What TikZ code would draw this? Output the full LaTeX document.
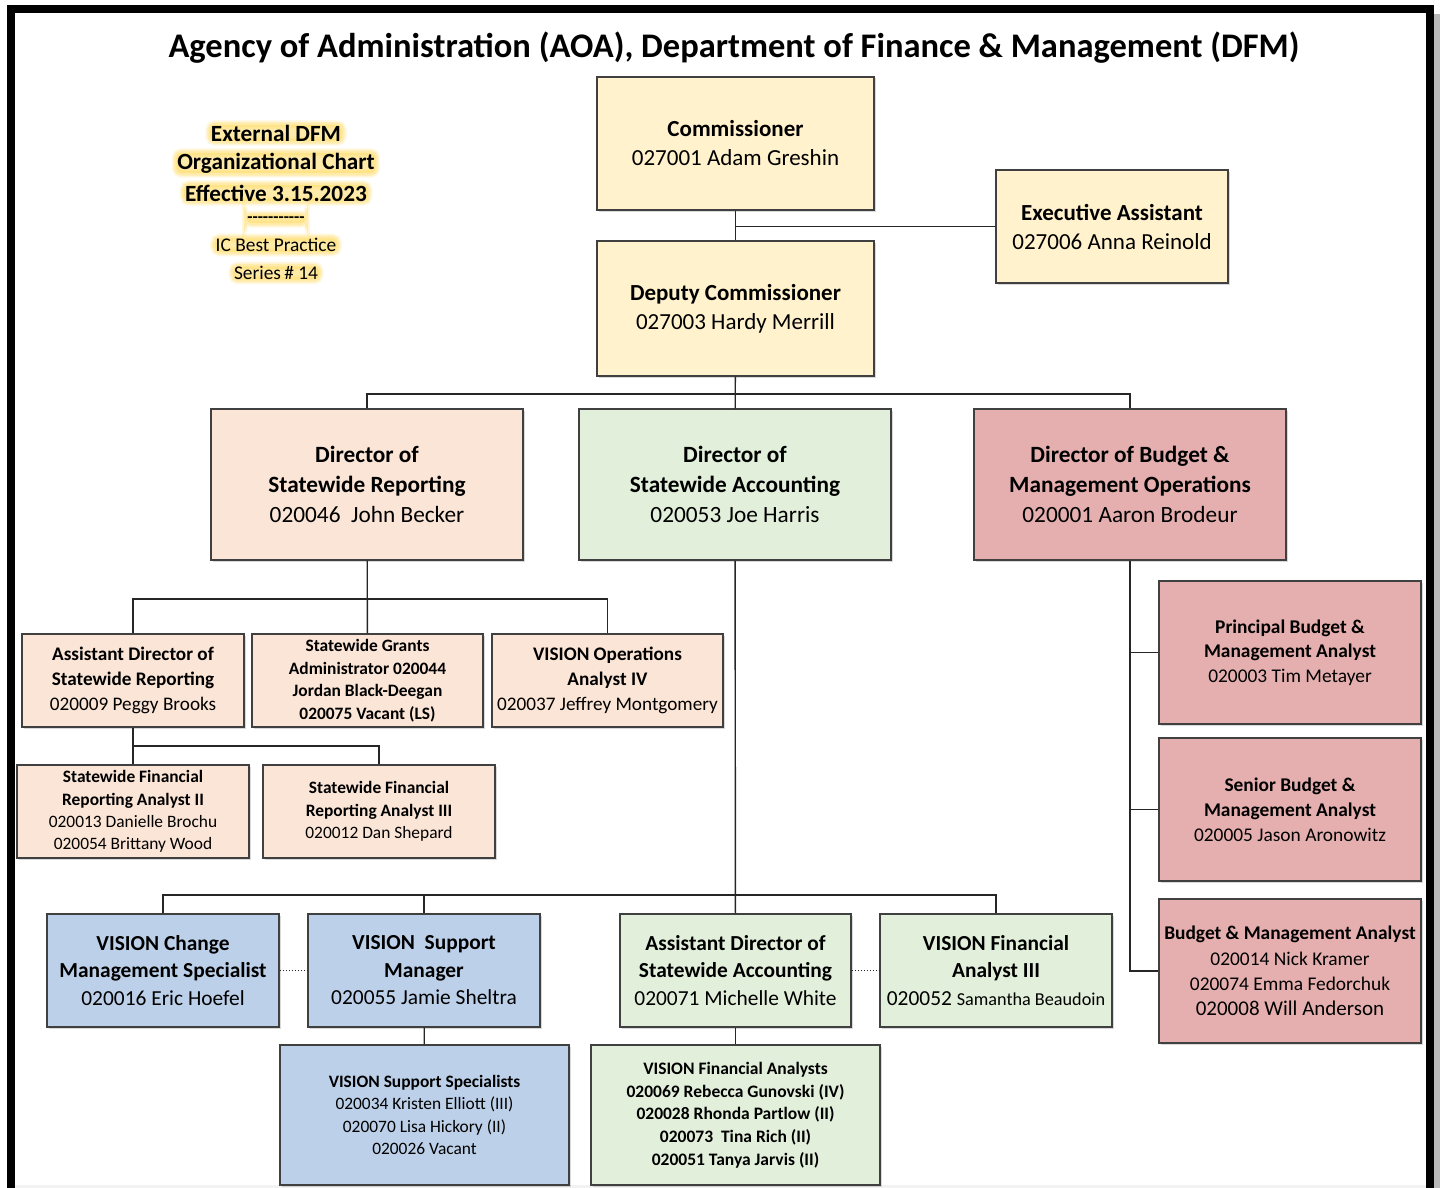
\documentclass[tikz,border=0pt]{standalone}
\usepackage{fontspec}
\setmainfont{Carlito}
\usetikzlibrary{shadows}

\definecolor{boxline}{HTML}{404040}
\definecolor{wirec}{HTML}{262626}
\definecolor{cream}{HTML}{FFF2CC}
\definecolor{peach}{HTML}{FBE5D6}
\definecolor{sage}{HTML}{E2EFDA}
\definecolor{rose}{HTML}{E6AFAF}
\definecolor{sky}{HTML}{BDD0E9}
\definecolor{halo}{HTML}{FFDD70}

\newcommand{\fs}[2]{\fontsize{#1}{#2}\selectfont}

\tikzset{
  unit/.style={draw=boxline, line width=1.4pt, align=center, inner sep=2pt,
    drop shadow={shadow xshift=1.5pt, shadow yshift=-1.5pt, opacity=.3}},
  size/.style 2 args={minimum width=#1, minimum height=#2},
  wire/.style={draw=wirec, line width=1.4pt},
  % soft yellow glow behind the note lines
  glow/.style={inner xsep=1pt, inner ysep=0pt, rounded corners=5pt,
    preaction={draw=halo, line width=9pt, draw opacity=.25},
    preaction={draw=halo, line width=5pt, draw opacity=.45},
    preaction={fill=halo, fill opacity=.6}},
}

\begin{document}
\begin{tikzpicture}[x=1pt, y=-1pt]
  \useasboundingbox (0,0) rectangle (1440,1188);
  % page frame
  \begin{scope}
    \clip (0,0) rectangle (1440,1188);
    \fill[gray!55] (1434,14) rectangle (1440,1188);
    \fill[gray!10] (15,1185) rectangle (1426,1188);
    \draw[line width=8pt] (11,9) rectangle (1430,1210);
  \end{scope}

  \node[font=\bfseries\fs{34.5}{40}] (title) at (734,48)
    {Agency of Administration (AOA), Department of Finance \& Management (DFM)};

  % chart note
  \node[glow, font=\bfseries\fs{23.2}{28}] (noteone) at (276,133) {External DFM};
  \node[glow, font=\bfseries\fs{23.2}{28}] (notetwo) at (276,163) {Organizational Chart};
  \node[glow, font=\bfseries\fs{23.2}{28}] (notethree) at (276,193) {Effective 3.15.2023};
  \node[glow, text height=7pt, text depth=1pt, font=\bfseries\fs{17}{20}] (notedash) at (276,219)
    {-{}-{}-{}-{}-{}-{}-{}-{}-{}-{}-};
  \node[glow, font=\fs{19.4}{23}] (noteic) at (276,245) {IC Best Practice};
  \node[glow, font=\fs{19.4}{23}] (noteseries) at (276,273) {Series\,\# 14};

  % top level
  \node[unit, fill=cream, size={277pt}{133pt}, font=\fs{23}{29}] (comm) at (735.5,143.5)
    {\textbf{Commissioner}\\027001 Adam Greshin};
  \node[unit, fill=cream, size={232pt}{113pt}, font=\fs{23}{29}] (exec) at (1112,226.5)
    {\textbf{Executive Assistant}\\027006 Anna Reinold};
  \node[unit, fill=cream, size={277pt}{135pt}, font=\fs{23}{29}] (dep) at (735.5,308.5)
    {\textbf{Deputy Commissioner}\\027003 Hardy Merrill};

  % directors
  \node[unit, fill=peach, size={312pt}{151pt}, font=\fs{23.3}{30}] (dirrep) at (367,484.5)
    {\textbf{Director of}\\\textbf{Statewide Reporting}\\020046\ \ John Becker};
  \node[unit, fill=sage, size={312pt}{151pt}, font=\fs{23.3}{30}] (diracc) at (735,484.5)
    {\textbf{Director of}\\\textbf{Statewide Accounting}\\020053 Joe Harris};
  \node[unit, fill=rose, size={312pt}{151pt}, font=\fs{23.3}{30}] (dirbud) at (1130,484.5)
    {\textbf{Director of Budget \&}\\\textbf{Management Operations}\\020001 Aaron Brodeur};

  % statewide reporting
  \node[unit, fill=peach, size={222pt}{93pt}, font=\fs{19.2}{25}] (adrep) at (133,680.5)
    {\textbf{Assistant Director of}\\\textbf{Statewide Reporting}\\020009 Peggy Brooks};
  \node[unit, fill=peach, size={231pt}{93pt}, font=\bfseries\fs{17.4}{22.5}] (grants) at (367.5,680.5)
    {Statewide Grants\\Administrator 020044\\Jordan Black-Deegan\\020075 Vacant (LS)};
  \node[unit, fill=peach, size={231pt}{93pt}, font=\fs{19.2}{25}] (visop) at (607.5,680.5)
    {\textbf{VISION Operations}\\\textbf{Analyst IV}\\020037 Jeffrey Montgomery};
  \node[unit, fill=peach, size={232pt}{93pt}, font=\fs{17.4}{22.3}] (sfrtwo) at (133,811.5)
    {\textbf{Statewide Financial}\\\textbf{Reporting Analyst II}\\020013 Danielle Brochu\\020054 Brittany Wood};
  \node[unit, fill=peach, size={232pt}{93pt}, font=\fs{17.4}{22.5}] (sfrthree) at (379,811.5)
    {\textbf{Statewide Financial}\\\textbf{Reporting Analyst III}\\020012 Dan Shepard};

  % statewide accounting
  \node[unit, fill=sky, size={232pt}{113pt}, font=\fs{21.4}{27.5}] (vchg) at (163,970.5)
    {\textbf{VISION Change}\\\textbf{Management Specialist}\\020016 Eric Hoefel};
  \node[unit, fill=sky, size={232pt}{113pt}, font=\fs{21.4}{27.5}] (vsup) at (424,970.5)
    {\textbf{VISION\ \ Support}\\\textbf{Manager}\\020055 Jamie Sheltra};
  \node[unit, fill=sage, size={231pt}{113pt}, font=\fs{21.4}{27.5}] (adacc) at (735.5,970.5)
    {\textbf{Assistant Director of}\\\textbf{Statewide Accounting}\\020071 Michelle White};
  \node[unit, fill=sage, size={232pt}{113pt}, font=\fs{21.4}{27.5}] (vfathree) at (996,970.5)
    {\textbf{VISION Financial}\\\textbf{Analyst III}\\020052 {\fs{18.2}{27.5}Samantha Beaudoin}};
  \node[unit, fill=sky, size={289pt}{140pt}, font=\fs{17.4}{22.3}] (vss) at (424.5,1115)
    {\textbf{VISION Support Specialists}\\020034 Kristen Elliott (III)\\020070 Lisa Hickory (II)\\020026 Vacant};
  \node[unit, fill=sage, size={289pt}{140pt}, font=\bfseries\fs{17.5}{22.75}] (vfas) at (735.5,1115)
    {VISION Financial Analysts\\020069 Rebecca Gunovski (IV)\\020028 Rhonda Partlow (II)\\020073\ \ Tina Rich (II)\\020051 Tanya Jarvis (II)};

  % budget & management
  \node[unit, fill=rose, size={262pt}{143pt}, font=\fs{19.4}{24.5}] (pbma) at (1290,652.5)
    {\textbf{Principal Budget \&}\\\textbf{Management Analyst}\\020003 Tim Metayer};
  \node[unit, fill=rose, size={262pt}{143pt}, font=\fs{19.4}{25}] (sbma) at (1290,809.5)
    {\textbf{Senior Budget \&}\\\textbf{Management Analyst}\\020005 Jason Aronowitz};
  \node[unit, fill=rose, size={262pt}{144pt}, font=\fs{19.4}{25.3}] (bma) at (1290,971)
    {\textbf{Budget \& Management Analyst}\\020014 Nick Kramer\\020074 Emma Fedorchuk\\{\fs{21}{25.3}020008 Will Anderson}};

  % reporting lines
  \coordinate (topbus) at (735,394);
  \coordinate (repbus) at (367,599);
  \coordinate (adbus) at (133,746);
  \coordinate (accbus) at (735,895);

  \draw[wire] (comm) -- (dep);
  \draw[wire] (exec.west) -- (exec.west -| comm.south);
  \draw[wire] (dep) -- (diracc);
  \draw[wire] (dirrep.north) |- (topbus) -| (dirbud.north);

  \draw[wire] (dirrep) -- (grants);
  \draw[wire] (adrep.north) |- (repbus) -| (visop.north);
  \draw[wire] (adrep) -- (sfrtwo);
  \draw[wire] (adrep.south) |- (adbus) -| (sfrthree.north);

  \draw[wire] (diracc) -- (adacc);
  \draw[wire] (vchg.north) |- (accbus) -| (vfathree.north);
  \draw[wire] (vsup.north) -- (vsup.north |- accbus);
  \draw[wire] (vsup) -- (vss);
  \draw[wire] (adacc) -- (vfas);
  \draw[wirec, dotted, line width=1pt] (vchg) -- (vsup);
  \draw[wirec, dotted, line width=1pt] (adacc) -- (vfathree);

  \foreach \n in {pbma,sbma}
    \draw[wire] (\n.west) -- (\n.west -| dirbud.south);
  \draw[wire] (dirbud.south) |- (bma.west);
\end{tikzpicture}
\end{document}
